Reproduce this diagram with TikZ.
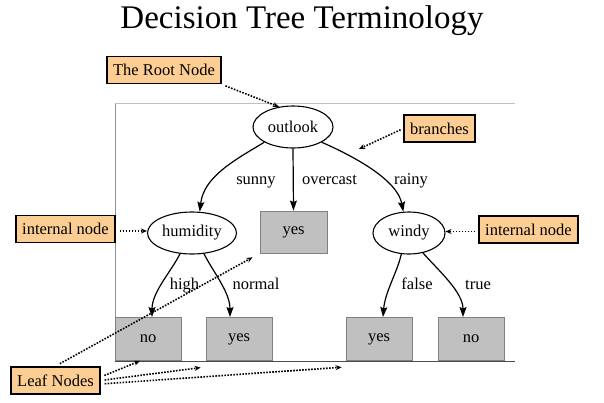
\documentclass[tikz,border=0pt]{standalone}
\usepackage{fontspec}
\setmainfont{Liberation Serif}
\usetikzlibrary{arrows.meta, shapes.geometric}

\definecolor{termorange}{RGB}{253,206,148}
\definecolor{leafgray}{RGB}{192,192,192}

\begin{document}
\begin{tikzpicture}
[x=1pt, y=-1pt, font=\fontsize{16.5}{19}\selectfont,
   ->/.style={line width=1.2pt, arrows={-{Stealth[length=10pt, width=7pt, inset=1.5pt]}}},
   pointer/.style={line width=1.6pt, dash pattern=on 1.6pt off 1.4pt, arrows={-{Stealth[length=6pt, width=5pt]}}},
   decision/.style={shape=ellipse, draw, line width=1.1pt, minimum height=42pt, inner sep=1pt},
   leaf/.style={shape=rectangle, draw=gray, line width=0.9pt, fill=leafgray, minimum width=66pt, minimum height=43pt},
   term/.style={shape=rectangle, draw, line width=1.8pt, fill=termorange, minimum height=27pt, inner xsep=6pt},
   lbl/.style={anchor=base, inner sep=0pt}]
\useasboundingbox (0,0) rectangle (604,402);
\node[anchor=base] (title) at (302,28) {\fontsize{33}{38}\selectfont Decision Tree Terminology};
\draw [gray!85, line width=0.9pt] (115,361) -- (115,103);
\draw [gray!50, line width=0.9pt] (115,103) -- (515,103);
\node[decision, minimum width=80pt] (outlook) at (293,127) {outlook};
\node[decision, minimum width=89pt] (humidity) at (192,233) {humidity};
\node[decision, minimum width=72pt] (windy) at (409,233) {windy};
\node[leaf, minimum width=67pt, minimum height=42pt] (yesmid) at (293.5,232) {yes};
\node[leaf] (no1) at (148,339) {no};
\node[leaf] (yes1) at (239,339) {yes};
\node[leaf] (yes2) at (379,339) {yes};
\node[leaf] (no2) at (471,339) {no};
\draw [black!70, line width=1pt] (115,361) -- (515,361);
\draw [->] (outlook.south west) .. controls +(-30,18) and +(4,-35) .. (humidity.70);
\draw [->] (outlook.south) -- (yesmid.north);
\draw [->] (outlook.south east) .. controls +(32,14) and +(-6,-32) .. (windy.105);
\draw [->] (humidity.240) .. controls +(-9,18) and +(0,-25) .. ([xshift=4pt]no1.north);
\draw [->] (humidity.300) .. controls +(9,18) and +(0,-25) .. ([xshift=-9pt]yes1.north);
\draw [->] (windy.250) .. controls +(-4,18) and +(2,-25) .. ([xshift=4pt]yes2.north);
\draw [->] (windy.305) .. controls +(16,18) and +(0,-25) .. ([xshift=-8pt]no2.north);
\node[lbl] (sunny) at (256,184) {sunny};
\node[lbl] (overcast) at (329.5,184) {overcast};
\node[lbl] (rainy) at (411,184) {rainy};
\node[lbl] (high) at (184.5,289) {high};
\node[lbl] (normal) at (256,289) {normal};
\node[lbl] (false) at (417,289) {false};
\node[lbl] (true) at (478,289) {true};
\node[term] (root) at (164,70) {The Root Node};
\node[term] (branches) at (439.5,128.5) {branches};
\node[term] (intl) at (65.5,229) {internal node};
\node[term] (intr) at (528.5,229.5) {internal node};
\node[term] (leafn) at (55.5,380.5) {Leaf Nodes};
\coordinate (brpt) at (359,149);
\draw [pointer, shorten <=4pt] (root.south east) -- (outlook.125);
\draw [pointer, shorten <=3pt] (branches.west) -- (brpt);
\draw [pointer, shorten <=4pt] ([yshift=-2pt]intl.east) -- ([yshift=-2pt]intl.east -| humidity.west);
\draw [pointer, shorten <=3pt] ([yshift=-2pt]intr.west) -- ([yshift=-2pt]intr.west -| windy.east);
\draw [pointer, shorten <=5pt, shorten >=8pt] (leafn.north) -- (yesmid.south west);
\draw [pointer, shorten <=4pt] ([yshift=3.5pt]leafn.east) -- ([xshift=-8pt]no1.south);
\draw [pointer, shorten <=4pt, shorten >=5pt] (leafn.east) -- ([yshift=-6pt]yes1.south west);
\draw [pointer, shorten <=4pt, shorten >=4pt] ([yshift=-3.5pt]leafn.east) -- ([yshift=-6pt]yes2.south west);
\end{tikzpicture}
\end{document}
